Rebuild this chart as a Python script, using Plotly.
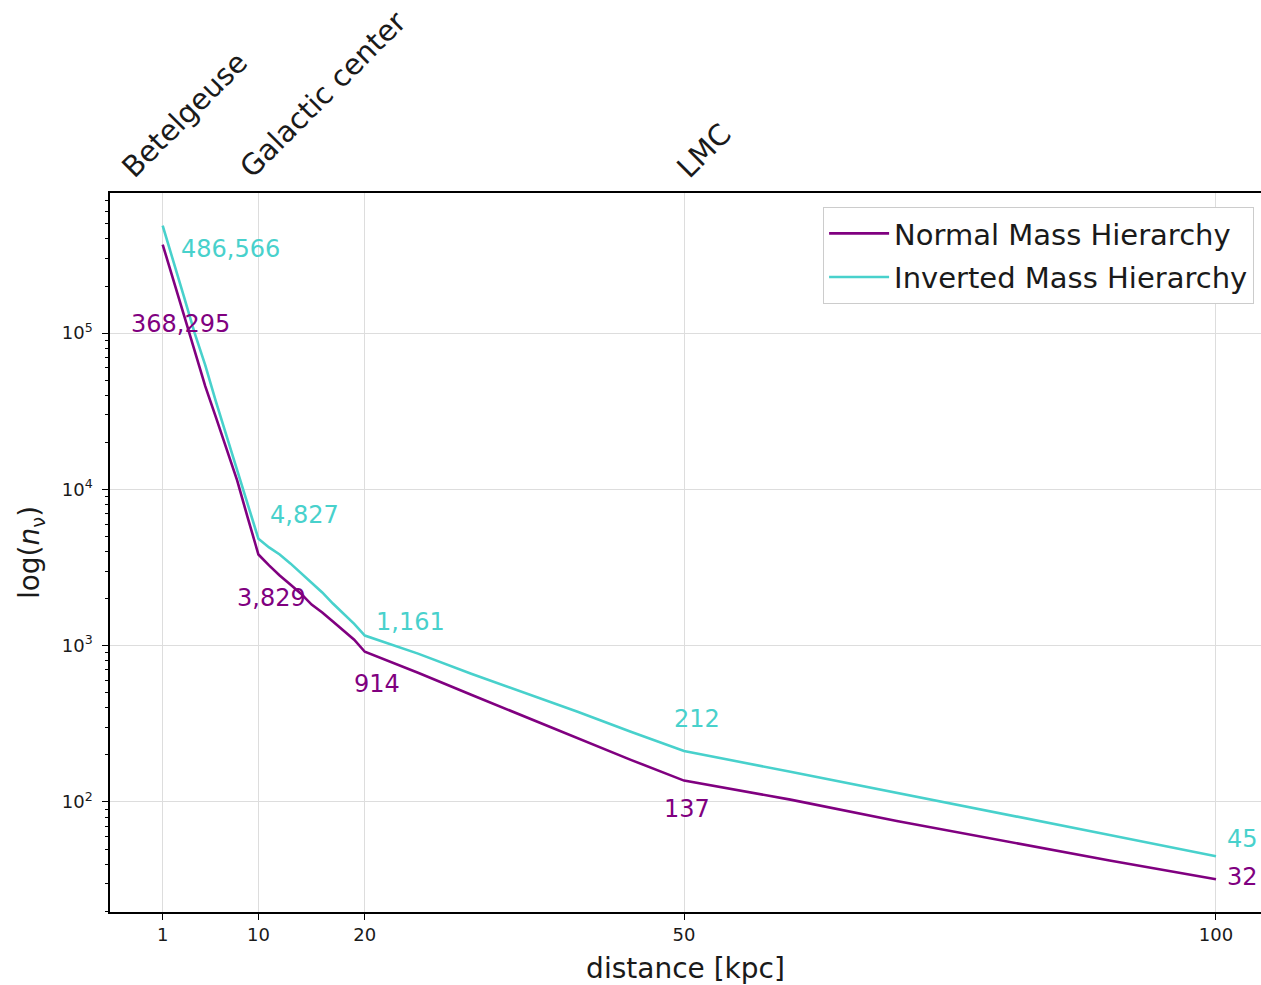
import math
import plotly.graph_objects as go

# ---------------- data ----------------
distance_kpc = [1, 2, 3, 4, 5, 6, 7, 8, 9, 10,
                11, 12, 13, 14, 15, 16, 17, 18, 19, 20,
                25, 30, 35, 40, 45, 50, 60, 70, 80, 90, 100]
normal_hierarchy = [368295, 222000, 130300, 77100, 45700, 29000, 18150, 11430, 6560, 3829,
                    3260, 2810, 2460, 2150, 1830, 1630, 1426, 1247, 1091, 914,
                    671, 485, 351, 257, 186, 137, 103.5, 75.6, 56.2, 42.2, 32]
inverted_hierarchy = [486566, 291700, 171000, 100200, 62400, 36600, 21900, 13030, 7830, 4827,
                      4250, 3830, 3360, 2900, 2535, 2190, 1860, 1600, 1380, 1161,
                      889, 662, 500, 378, 281, 212, 156, 114, 84, 61.5, 45]
labeled_distances = [1, 10, 20, 50, 100]
x_tick_values = [1, 10, 20, 50, 100]
y_tick_values = [1e2, 1e3, 1e4, 1e5]
y_tick_labels = ["10<sup>2</sup>", "10<sup>3</sup>", "10<sup>4</sup>", "10<sup>5</sup>"]
landmark_names = ["Betelgeuse", "Galactic center", "LMC"]
landmark_positions = [-3.8, 7.4, 48.4]

# ---------------- styles ----------------
PURPLE = "#800080"
TURQ = "#48D1CC"
FONT = "DejaVu Sans"
TEXT = "#1a1a1a"
# label pixel offsets (xshift, yshift) for the value annotations
normal_offsets = [(18, -79), (13, -43), (12, -32), (3, -28), (27, 2)]
inverted_offsets = [(68, -23), (46, 24), (46, 14), (13, 32), (27, 17)]

fig = go.Figure()
fig.add_trace(go.Scatter(x=distance_kpc, y=normal_hierarchy, mode="lines",
                         name="Normal Mass Hierarchy", legendgroup="n",
                         line=dict(color=PURPLE, width=2.6)))
fig.add_trace(go.Scatter(x=distance_kpc, y=inverted_hierarchy, mode="lines",
                         name="Inverted Mass Hierarchy", legendgroup="i",
                         line=dict(color=TURQ, width=2.6)))

annotations = []
for series, offsets, color in ((normal_hierarchy, normal_offsets, PURPLE),
                               (inverted_hierarchy, inverted_offsets, TURQ)):
    for d, (dx, dy) in zip(labeled_distances, offsets):
        v = series[distance_kpc.index(d)]
        annotations.append(dict(x=d, y=math.log10(v), xref="x", yref="y",
                                text=f"{int(v):,}", showarrow=False,
                                xshift=dx, yshift=dy,
                                font=dict(family=FONT, size=24, color=color)))

for name, pos in zip(landmark_names, landmark_positions):
    annotations.append(dict(x=pos, y=1, xref="x", yref="paper", text=name,
                            showarrow=False, textangle=-45,
                            xanchor="left", yanchor="bottom", yshift=6,
                            font=dict(family=FONT, size=29, color=TEXT)))

minor_vals = []
for k in range(1, 6):
    for m in range(2, 10):
        val = m * 10 ** k
        if 19.8 < val < 787000:
            minor_vals.append(val)

fig.update_layout(
    width=1261, height=985,
    margin=dict(l=110, r=0, t=193, b=73),
    plot_bgcolor="white", paper_bgcolor="white",
    font=dict(family=FONT, color=TEXT),
    showlegend=True,
    legend=dict(x=0.994, y=0.9805, xanchor="right", yanchor="top",
                bgcolor="white", bordercolor="#cccccc", borderwidth=1,
                font=dict(family=FONT, size=29, color=TEXT),
                itemwidth=60,
                traceorder="grouped", tracegroupgap=3),
    annotations=annotations,
    xaxis=dict(range=[-3.95, 104.23], tickvals=x_tick_values,
               ticks="outside", ticklen=6, tickwidth=1.2, tickcolor="black",
               showline=True, linecolor="black", linewidth=1.5, mirror=True,
               showgrid=True, gridcolor="#dddddd", gridwidth=1, zeroline=False,
               tickfont=dict(size=18, color=TEXT),
               title=dict(text="distance [kpc]", font=dict(size=28, color=TEXT),
                          standoff=14)),
    yaxis=dict(type="log", range=[1.296, 5.896], tickvals=y_tick_values,
               ticktext=y_tick_labels,
               ticks="outside", ticklen=6, tickwidth=1.2, tickcolor="black",
               ticklabelstandoff=6,
               minor=dict(tickvals=minor_vals, ticks="outside", ticklen=3.5,
                          tickwidth=1, tickcolor="black", showgrid=False),
               showline=True, linecolor="black", linewidth=1.5, mirror=False,
               showgrid=True, gridcolor="#dddddd", gridwidth=1, zeroline=False,
               tickfont=dict(size=18, color=TEXT),
               title=dict(text="log(<i>n</i><sub>ν</sub>)",
                          font=dict(size=28, color=TEXT), standoff=14)),
)

fig.write_html("out.html")
